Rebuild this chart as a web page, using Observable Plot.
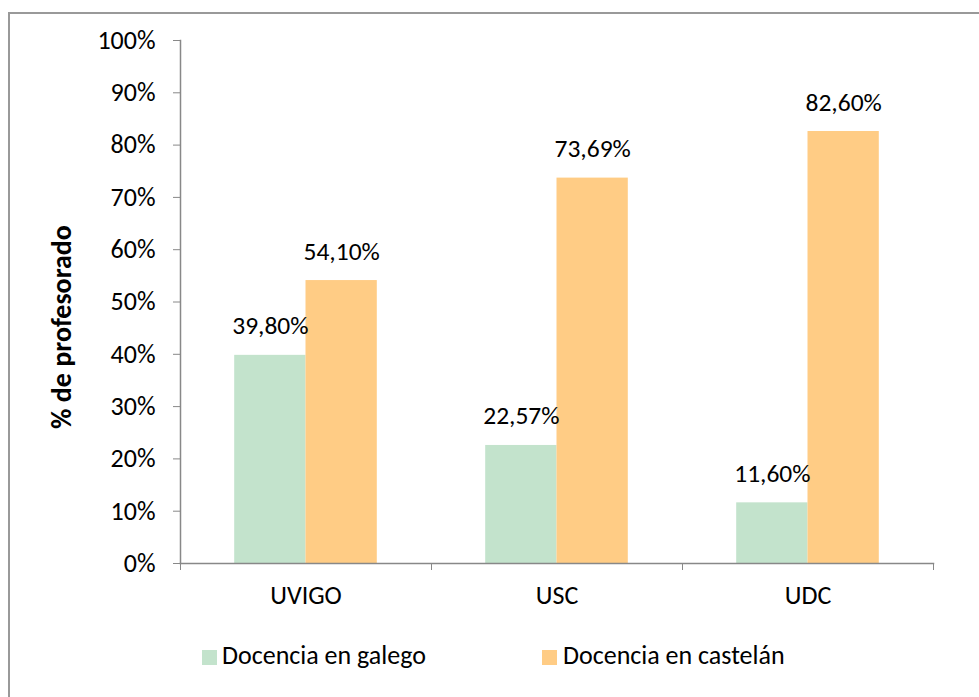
<!DOCTYPE html>
<html><head><meta charset="utf-8">
<script src="https://cdn.jsdelivr.net/npm/d3@7"></script>
<script src="https://cdn.jsdelivr.net/npm/@observablehq/plot@0.6"></script>
<style>
body{margin:0;background:#fff;font-family:Carlito, Lato, sans-serif;color:#000;}
#wrap{position:relative;width:979px;height:697px;overflow:hidden;background:#fff;}
#border{position:absolute;left:8px;top:12px;width:1100px;height:800px;border:2px solid #999;box-sizing:border-box;}
#chart{position:absolute;left:0;top:0;}
.sw{position:absolute;width:15px;height:15px;top:650px;}
.lt{position:absolute;top:640px;font-size:26px;line-height:30px;white-space:nowrap;}
</style>
</head><body>
<div id="wrap"><div id="border"></div><div id="chart"></div><div id="legend"></div></div>
<script>
const universidades = ["UVIGO", "USC", "UDC"];
const series = ["Docencia en galego", "Docencia en castelán"];
const galego = [39.80, 22.57, 11.60];
const castelan = [54.10, 73.69, 82.60];
const yTicks = [0, 10, 20, 30, 40, 50, 60, 70, 80, 90, 100];
const colores = ["#c3e3cc", "#ffcc85"];
const yTitle = "% de profesorado";

const W = 979, H = 630, mL = 180, mR = 46, mT = 40, mB = 67;
const bw = (W - mL - mR) / universidades.length;
const barW = 71.3;
const side = (bw - 2 * barW) / 2;

const data = [];
universidades.forEach((u, i) => {
  data.push({uni: u, serie: series[0], value: galego[i]});
  data.push({uni: u, serie: series[1], value: castelan[i]});
});
const fmt = v => v.toFixed(2).replace(".", ",") + "%";
const font = "Carlito, Lato, sans-serif";

const plot = Plot.plot({
  width: W, height: H,
  marginLeft: mL, marginRight: mR, marginTop: mT, marginBottom: mB,
  style: {fontFamily: font, fontSize: "26px", color: "#000", background: "transparent", overflow: "visible"},
  x: {domain: universidades, padding: 0, axis: null},
  y: {domain: [0, 100], axis: null},
  color: {domain: series, range: colores},
  marks: [
    Plot.barY(data.filter(d => d.serie === series[0]), {x: "uni", y: "value", fill: "serie", insetLeft: side, insetRight: bw - side - barW}),
    Plot.barY(data.filter(d => d.serie === series[1]), {x: "uni", y: "value", fill: "serie", insetLeft: side + barW, insetRight: side}),
    Plot.text(data.filter(d => d.serie === series[0]), {x: "uni", y: "value", text: d => fmt(d.value), dx: -barW / 2, dy: -21, lineAnchor: "bottom", fontSize: 25.5, fill: "#000"}),
    Plot.text(data.filter(d => d.serie === series[1]), {x: "uni", y: "value", text: d => fmt(d.value), dx: barW / 2, dy: -21, lineAnchor: "bottom", fontSize: 25.5, fill: "#000"}),
    Plot.axisY({ticks: yTicks, tickFormat: d => d + "%", tickSize: 7, tickPadding: 18, stroke: "#888", fill: "#000", fontSize: 26, label: null}),
    Plot.axisX({tickSize: 0, tickPadding: 22, fill: "#000", fontSize: 26, label: null}),
    Plot.axisX({tickSize: 7, tickFormat: () => "", dx: -bw / 2, stroke: "#888", label: null}),
    Plot.axisX({ticks: [universidades[universidades.length - 1]], tickSize: 7, tickFormat: () => "", dx: bw / 2, stroke: "#888", label: null}),
    Plot.frame({anchor: "left", stroke: "#888", strokeWidth: 1.5}),
    Plot.frame({anchor: "bottom", stroke: "#888", strokeWidth: 1.5}),
    Plot.text([yTitle], {frameAnchor: "left", textAnchor: "middle", rotate: -90, dx: -118, dy: 25, fontWeight: "bold", fontSize: 28, fill: "#000"})
  ]
});
document.getElementById("chart").appendChild(plot);

const legend = document.getElementById("legend");
const legendPos = [{sw: 202, tx: 222}, {sw: 542, tx: 563}];
series.forEach((s, i) => {
  const sw = document.createElement("div");
  sw.className = "sw"; sw.style.left = legendPos[i].sw + "px"; sw.style.background = colores[i];
  const t = document.createElement("div");
  t.className = "lt"; t.style.left = legendPos[i].tx + "px"; t.textContent = s;
  legend.appendChild(sw); legend.appendChild(t);
});
</script>
</body></html>
